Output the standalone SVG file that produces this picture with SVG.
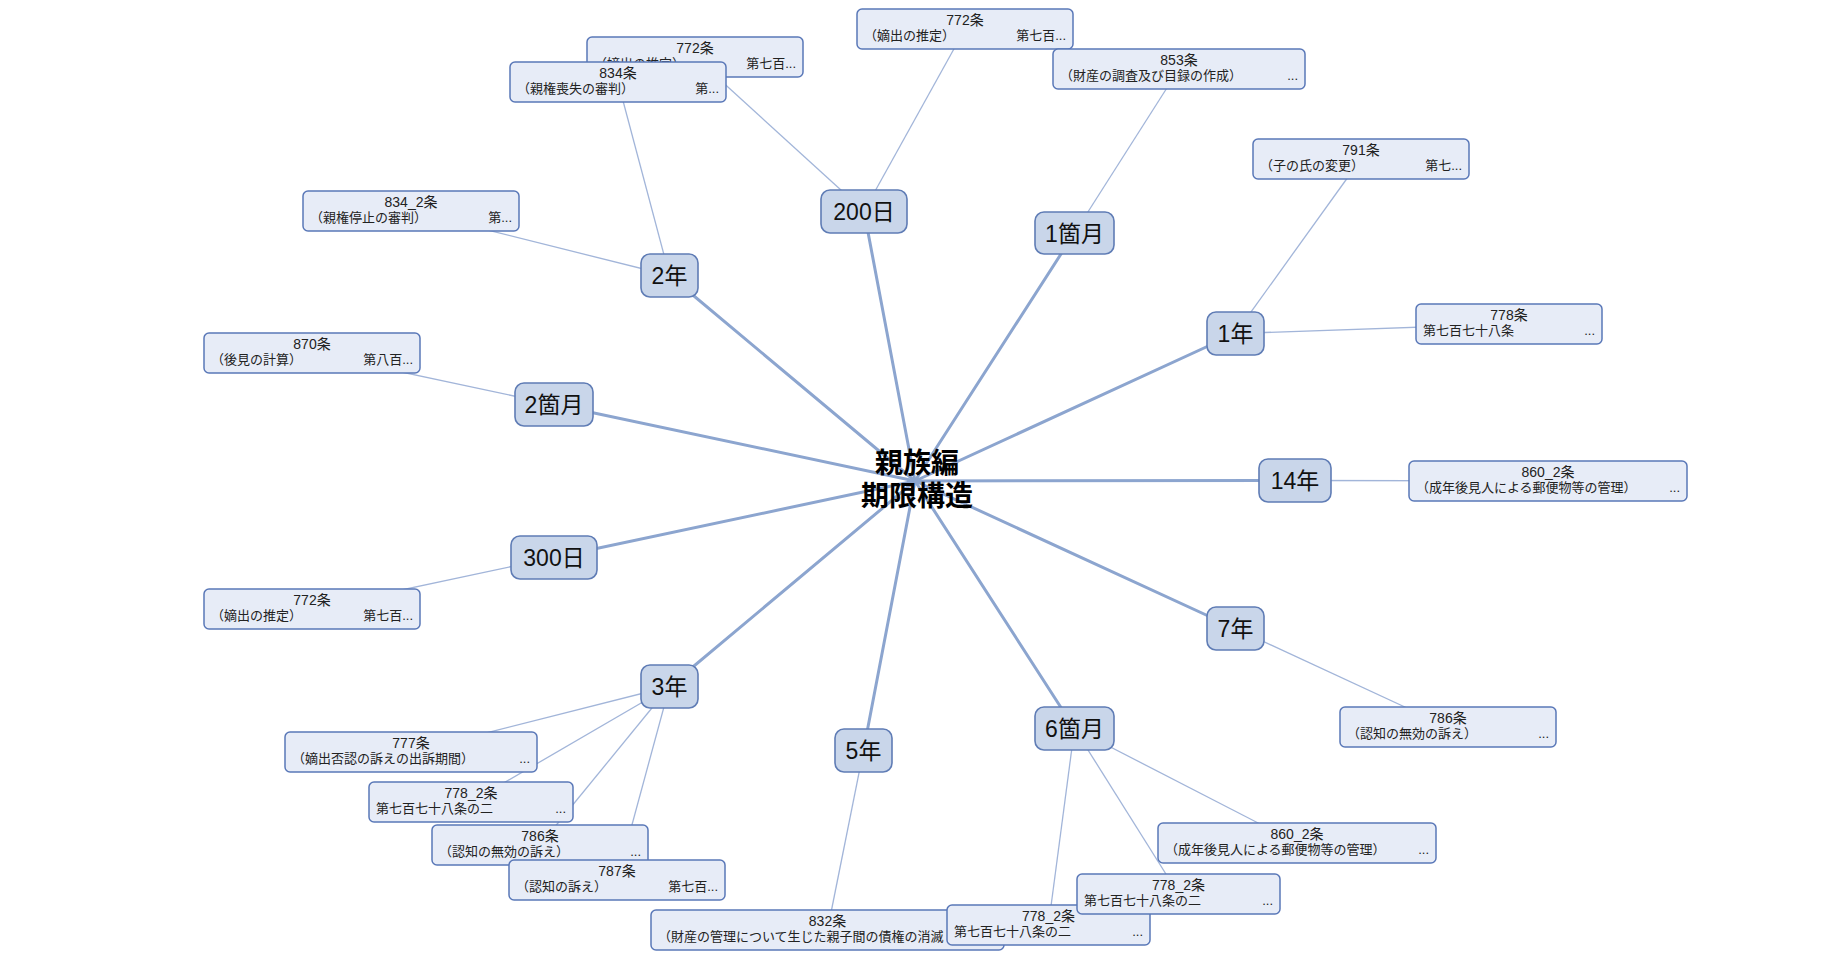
<svg xmlns="http://www.w3.org/2000/svg" width="1833" height="960" viewBox="0 0 1833 960">
<style>
.hub{stroke:#8ca5cf;stroke-width:3;fill:none;stroke-linecap:round}
.leaf{stroke:#a2b5d9;stroke-width:1.3;fill:none}
.nd rect{fill:#c9d6ea;stroke:#5f7cb5;stroke-width:1.6}
.nd text{font-family:"Liberation Sans","Noto Sans CJK JP",sans-serif;font-size:23px;fill:#111;text-anchor:middle}
.bx rect{fill:#e7ecf7;stroke:#5a78b8;stroke-width:1.5}
.bx text{font-family:"Liberation Sans","Noto Sans CJK JP",sans-serif;font-size:13px;fill:#222}
.bx .c{text-anchor:middle;font-size:14px}
.bx .r{text-anchor:end}
.ctr{font-family:"Liberation Sans","Noto Sans CJK JP",sans-serif;font-size:28px;font-weight:bold;fill:#000;text-anchor:middle}
</style>
<rect width="1833" height="960" fill="#fff"/>
<g id="connectors">
<line class="hub" x1="915" y1="481" x2="864" y2="211"/>
<line class="hub" x1="915" y1="481" x2="1074.5" y2="233"/>
<line class="hub" x1="915" y1="481" x2="669.5" y2="275.5"/>
<line class="hub" x1="915" y1="481" x2="1235.5" y2="333.5"/>
<line class="hub" x1="915" y1="481" x2="554" y2="404.5"/>
<line class="hub" x1="915" y1="481" x2="1295" y2="480.5"/>
<line class="hub" x1="915" y1="481" x2="554" y2="557.5"/>
<line class="hub" x1="915" y1="481" x2="1235.5" y2="628.5"/>
<line class="hub" x1="915" y1="481" x2="669.5" y2="686.5"/>
<line class="hub" x1="915" y1="481" x2="1074.5" y2="728.5"/>
<line class="hub" x1="915" y1="481" x2="863.5" y2="750.5"/>
<line class="leaf" x1="864" y1="211" x2="695" y2="57"/>
<line class="leaf" x1="864" y1="211" x2="965" y2="29"/>
<line class="leaf" x1="1074.5" y1="233" x2="1179" y2="69"/>
<line class="leaf" x1="669.5" y1="275.5" x2="618" y2="82"/>
<line class="leaf" x1="669.5" y1="275.5" x2="411" y2="211"/>
<line class="leaf" x1="1235.5" y1="333.5" x2="1361" y2="159"/>
<line class="leaf" x1="1235.5" y1="333.5" x2="1509" y2="324"/>
<line class="leaf" x1="554" y1="404.5" x2="312" y2="353"/>
<line class="leaf" x1="1295" y1="480.5" x2="1548" y2="481"/>
<line class="leaf" x1="554" y1="557.5" x2="312" y2="609"/>
<line class="leaf" x1="1235.5" y1="628.5" x2="1448" y2="727"/>
<line class="leaf" x1="669.5" y1="686.5" x2="411" y2="752"/>
<line class="leaf" x1="669.5" y1="686.5" x2="471" y2="802"/>
<line class="leaf" x1="669.5" y1="686.5" x2="540" y2="845"/>
<line class="leaf" x1="669.5" y1="686.5" x2="617" y2="880"/>
<line class="leaf" x1="1074.5" y1="728.5" x2="1297" y2="843"/>
<line class="leaf" x1="1074.5" y1="728.5" x2="1178.5" y2="894"/>
<line class="leaf" x1="1074.5" y1="728.5" x2="1048.5" y2="925"/>
<line class="leaf" x1="863.5" y1="750.5" x2="827.5" y2="930"/>
</g>
<g id="center"><text class="ctr" x="917" y="473">親族編</text><text class="ctr" x="917" y="506">期限構造</text></g>
<g id="n200d" class="nd"><rect x="821" y="190" width="86" height="43" rx="9"/><text x="864" y="219.5">200日</text></g>
<g id="n1m" class="nd"><rect x="1035" y="212" width="79" height="42" rx="9"/><text x="1074.5" y="241.5">1箇月</text></g>
<g id="n2y" class="nd"><rect x="641" y="254" width="57" height="43" rx="9"/><text x="669.5" y="283.5">2年</text></g>
<g id="n1y" class="nd"><rect x="1207" y="312" width="57" height="43" rx="9"/><text x="1235.5" y="341.5">1年</text></g>
<g id="n2m" class="nd"><rect x="515" y="383" width="78" height="43" rx="9"/><text x="554" y="412.5">2箇月</text></g>
<g id="n14y" class="nd"><rect x="1259" y="459" width="72" height="43" rx="9"/><text x="1295" y="488.5">14年</text></g>
<g id="n300d" class="nd"><rect x="511" y="536" width="86" height="43" rx="9"/><text x="554" y="565.5">300日</text></g>
<g id="n7y" class="nd"><rect x="1207" y="607" width="57" height="43" rx="9"/><text x="1235.5" y="636.5">7年</text></g>
<g id="n3y" class="nd"><rect x="641" y="665" width="57" height="43" rx="9"/><text x="669.5" y="694.5">3年</text></g>
<g id="n6m" class="nd"><rect x="1035" y="707" width="79" height="43" rx="9"/><text x="1074.5" y="736.5">6箇月</text></g>
<g id="n5y" class="nd"><rect x="835" y="729" width="57" height="43" rx="9"/><text x="863.5" y="758.5">5年</text></g>
<g id="b772a" class="bx"><rect x="587" y="37" width="216" height="40" rx="5"/><text class="c" x="695" y="53">772条</text><text x="594" y="68">（嫡出の推定）</text><text class="r" x="796" y="68">第七百...</text></g>
<g id="b834" class="bx"><rect x="510" y="62" width="216" height="40" rx="5"/><text class="c" x="618" y="78">834条</text><text x="517" y="93">（親権喪失の審判）</text><text class="r" x="719" y="93">第...</text></g>
<g id="b772b" class="bx"><rect x="857" y="9" width="216" height="40" rx="5"/><text class="c" x="965" y="25">772条</text><text x="864" y="40">（嫡出の推定）</text><text class="r" x="1066" y="40">第七百...</text></g>
<g id="b853" class="bx"><rect x="1053" y="49" width="252" height="40" rx="5"/><text class="c" x="1179" y="65">853条</text><text x="1060" y="80">（財産の調査及び目録の作成）</text><text class="r" x="1298" y="80">...</text></g>
<g id="b791" class="bx"><rect x="1253" y="139" width="216" height="40" rx="5"/><text class="c" x="1361" y="155">791条</text><text x="1260" y="170">（子の氏の変更）</text><text class="r" x="1462" y="170">第七...</text></g>
<g id="b834_2" class="bx"><rect x="303" y="191" width="216" height="40" rx="5"/><text class="c" x="411" y="207">834_2条</text><text x="310" y="222">（親権停止の審判）</text><text class="r" x="512" y="222">第...</text></g>
<g id="b778" class="bx"><rect x="1416" y="304" width="186" height="40" rx="5"/><text class="c" x="1509" y="320">778条</text><text x="1423" y="335">第七百七十八条</text><text class="r" x="1595" y="335">...</text></g>
<g id="b870" class="bx"><rect x="204" y="333" width="216" height="40" rx="5"/><text class="c" x="312" y="349">870条</text><text x="211" y="364">（後見の計算）</text><text class="r" x="413" y="364">第八百...</text></g>
<g id="b860_2a" class="bx"><rect x="1409" y="461" width="278" height="40" rx="5"/><text class="c" x="1548" y="477">860_2条</text><text x="1416" y="492">（成年後見人による郵便物等の管理）</text><text class="r" x="1680" y="492">...</text></g>
<g id="b772c" class="bx"><rect x="204" y="589" width="216" height="40" rx="5"/><text class="c" x="312" y="605">772条</text><text x="211" y="620">（嫡出の推定）</text><text class="r" x="413" y="620">第七百...</text></g>
<g id="b786a" class="bx"><rect x="1340" y="707" width="216" height="40" rx="5"/><text class="c" x="1448" y="723">786条</text><text x="1347" y="738">（認知の無効の訴え）</text><text class="r" x="1549" y="738">...</text></g>
<g id="b777" class="bx"><rect x="285" y="732" width="252" height="40" rx="5"/><text class="c" x="411" y="748">777条</text><text x="292" y="763">（嫡出否認の訴えの出訴期間）</text><text class="r" x="530" y="763">...</text></g>
<g id="b778_2a" class="bx"><rect x="369" y="782" width="204" height="40" rx="5"/><text class="c" x="471" y="798">778_2条</text><text x="376" y="813">第七百七十八条の二</text><text class="r" x="566" y="813">...</text></g>
<g id="b786b" class="bx"><rect x="432" y="825" width="216" height="40" rx="5"/><text class="c" x="540" y="841">786条</text><text x="439" y="856">（認知の無効の訴え）</text><text class="r" x="641" y="856">...</text></g>
<g id="b787" class="bx"><rect x="509" y="860" width="216" height="40" rx="5"/><text class="c" x="617" y="876">787条</text><text x="516" y="891">（認知の訴え）</text><text class="r" x="718" y="891">第七百...</text></g>
<g id="b832" class="bx"><rect x="651" y="910" width="353" height="40" rx="5"/><text class="c" x="827.5" y="926">832条</text><text x="658" y="941">（財産の管理について生じた親子間の債権の消滅</text></g>
<g id="b860_2b" class="bx"><rect x="1158" y="823" width="278" height="40" rx="5"/><text class="c" x="1297" y="839">860_2条</text><text x="1165" y="854">（成年後見人による郵便物等の管理）</text><text class="r" x="1429" y="854">...</text></g>
<g id="b778_2b" class="bx"><rect x="947" y="905" width="203" height="40" rx="5"/><text class="c" x="1048.5" y="921">778_2条</text><text x="954" y="936">第七百七十八条の二</text><text class="r" x="1143" y="936">...</text></g>
<g id="b778_2c" class="bx"><rect x="1077" y="874" width="203" height="40" rx="5"/><text class="c" x="1178.5" y="890">778_2条</text><text x="1084" y="905">第七百七十八条の二</text><text class="r" x="1273" y="905">...</text></g>
</svg>
